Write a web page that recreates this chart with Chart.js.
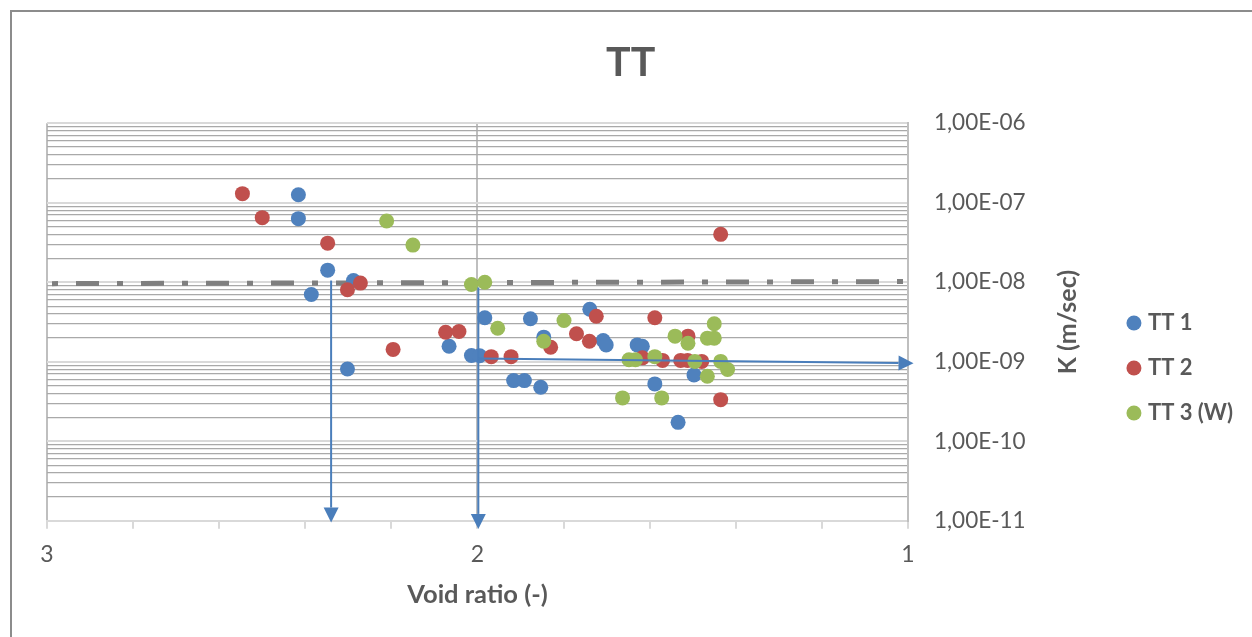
<!DOCTYPE html>
<html>
<head>
<meta charset="utf-8">
<script src="https://cdn.jsdelivr.net/npm/chart.js@4.4.1/dist/chart.umd.min.js"></script>
<style>
  html, body { margin: 0; padding: 0; background: #ffffff; overflow: hidden; }
  #wrap { width: 1252px; height: 637px; position: relative; }
</style>
</head>
<body>
<div id="wrap"><canvas id="c" width="1252" height="637"></canvas></div>
<script>
// Series: void ratio (-) against permeability K (m/sec)
const seriesNames = ['TT 1', 'TT 2', 'TT 3 (W)'];
const seriesColors = ['#4f81bd', '#c0504d', '#9bbb59'];

const tt1Void = [2.416, 2.416, 2.348, 2.288, 2.386, 2.302, 2.066, 2.014, 1.995, 1.983, 1.916, 1.891,
                 1.853, 1.877, 1.846, 1.739, 1.708, 1.701, 1.629, 1.617, 1.588, 1.497, 1.534];
const tt1K = [1.26e-7, 6.3e-8, 1.42e-8, 1.05e-8, 7.0e-9, 8.1e-10, 1.57e-9, 1.20e-9, 1.19e-9, 3.57e-9, 5.8e-10, 5.8e-10,
              4.78e-10, 3.47e-9, 2.04e-9, 4.58e-9, 1.85e-9, 1.63e-9, 1.63e-9, 1.57e-9, 5.27e-10, 6.84e-10, 1.73e-10];

const tt2Void = [2.546, 2.500, 2.348, 2.272, 2.302, 2.196, 2.074, 2.043, 1.968, 1.922, 1.830, 1.770,
                 1.740, 1.724, 1.617, 1.588, 1.570, 1.511, 1.528, 1.512, 1.479, 1.435, 1.435];
const tt2K = [1.30e-7, 6.49e-8, 3.10e-8, 9.75e-9, 8.05e-9, 1.43e-9, 2.35e-9, 2.40e-9, 1.16e-9, 1.16e-9, 1.52e-9, 2.25e-9,
              1.81e-9, 3.74e-9, 1.12e-9, 3.57e-9, 1.04e-9, 2.10e-9, 1.04e-9, 1.04e-9, 1.01e-9, 3.34e-10, 4.0e-8];

const tt3Void = [2.211, 2.150, 2.014, 1.983, 1.953, 1.846, 1.799, 1.648, 1.633, 1.663, 1.588,
                 1.572, 1.541, 1.511, 1.495, 1.466, 1.450, 1.450, 1.466, 1.435, 1.419];
const tt3K = [5.89e-8, 2.93e-8, 9.38e-9, 1.00e-8, 2.64e-9, 1.81e-9, 3.30e-9, 1.06e-9, 1.06e-9, 3.51e-10, 1.16e-9,
              3.51e-10, 2.10e-9, 1.71e-9, 1.01e-9, 1.98e-9, 1.98e-9, 3.00e-9, 6.56e-10, 1.01e-9, 7.98e-10];

// Reference limit line around 1E-08
const limitVoid = [3, 1];
const limitK = [9.6e-9, 1.02e-8];

// Reading arrows (start -> tip)
const arrowFromVoid = [2.34, 1.998, 1.998];
const arrowFromK = [1.05e-8, 8.6e-9, 1.097e-9];
const arrowToVoid = [2.34, 1.998, 0.987];
const arrowToK = [9.5e-12, 7.9e-12, 9.57e-10];

// Axis ticks
const xTickValues = [3, 2, 1];
const xTickLabels = ['3', '2', '1'];
const yDecades = [1e-11, 1e-10, 1e-9, 1e-8, 1e-7, 1e-6];
const yTickLabels = ['1,00E-11', '1,00E-10', '1,00E-09', '1,00E-08', '1,00E-07', '1,00E-06'];
const minorMultipliers = [1, 2, 3, 4, 5, 6, 7, 8, 9];

const FONT = 'Lato, "Open Sans", sans-serif';
const TEXT = '#595959';

const pts = (xs, ys) => xs.map((x, i) => ({ x: x, y: ys[i] }));
const isMajorLog = v => Math.abs(Math.log10(v) - Math.round(Math.log10(v))) < 1e-9;

const framePlugin = {
  id: 'frame',
  beforeDraw(chart) {
    const c = chart.ctx;
    c.save();
    c.fillStyle = '#ffffff';
    c.fillRect(0, 0, chart.width, chart.height);
    c.strokeStyle = '#8c8c8c';
    c.lineWidth = 2;
    c.beginPath();
    c.moveTo(11, chart.height + 2);
    c.lineTo(11, 11);
    c.lineTo(chart.width + 2, 11);
    c.stroke();
    c.restore();
  }
};

const arrowPlugin = {
  id: 'arrows',
  afterDatasetsDraw(chart) {
    const c = chart.ctx, xs = chart.scales.x, ys = chart.scales.y;
    c.save();
    c.strokeStyle = '#4a7ebb';
    c.fillStyle = '#4a7ebb';
    c.lineWidth = 2;
    arrowFromVoid.forEach((_, i) => {
      const x0 = xs.getPixelForValue(arrowFromVoid[i]), y0 = ys.getPixelForValue(arrowFromK[i]);
      const x1 = xs.getPixelForValue(arrowToVoid[i]), y1 = ys.getPixelForValue(arrowToK[i]);
      const len = Math.hypot(x1 - x0, y1 - y0), ux = (x1 - x0) / len, uy = (y1 - y0) / len;
      const head = 15, half = 7.5;
      const bx = x1 - ux * head, by = y1 - uy * head;
      c.beginPath();
      c.moveTo(x0, y0);
      c.lineTo(bx, by);
      c.stroke();
      c.beginPath();
      c.moveTo(x1, y1);
      c.lineTo(bx - uy * half, by + ux * half);
      c.lineTo(bx + uy * half, by - ux * half);
      c.closePath();
      c.fill();
    });
    c.restore();
  }
};

const yTitlePlugin = {
  id: 'yTitle',
  afterDraw(chart) {
    const c = chart.ctx, a = chart.chartArea;
    c.save();
    c.translate(a.right + 160, (a.top + a.bottom) / 2);
    c.rotate(-Math.PI / 2);
    c.font = 'bold 25px ' + FONT;
    c.fillStyle = TEXT;
    c.textAlign = 'center';
    c.textBaseline = 'middle';
    c.fillText('K (m/sec)', 0, 0);
    c.restore();
  }
};

const scatterSet = (i, xs, ys, order) => ({
  label: seriesNames[i],
  data: pts(xs, ys),
  backgroundColor: seriesColors[i],
  borderColor: seriesColors[i],
  borderWidth: 0,
  pointRadius: 7.5,
  pointHoverRadius: 7.5,
  order: order
});

new Chart(document.getElementById('c'), {
  type: 'scatter',
  data: {
    datasets: [
      scatterSet(0, tt1Void, tt1K, 3),
      scatterSet(1, tt2Void, tt2K, 2),
      scatterSet(2, tt3Void, tt3K, 1),
      {
        label: 'limit',
        data: pts(limitVoid, limitK),
        showLine: true,
        borderColor: '#7f7f7f',
        borderWidth: 5,
        borderDash: [23, 18, 6, 18],
        borderDashOffset: 36,
        borderCapStyle: 'butt',
        pointRadius: 0,
        pointHoverRadius: 0,
        order: 10
      }
    ]
  },
  options: {
    responsive: false,
    devicePixelRatio: 1,
    animation: false,
    events: [],
    layout: { padding: { left: 47, top: 12, right: 9, bottom: 23 } },
    plugins: {
      title: {
        display: true,
        // trailing spaces nudge the centred title towards the frame's centre
        text: 'TT\u00a0\u00a0\u00a0',
        color: TEXT,
        font: { family: FONT, size: 41, weight: 'bold' },
        padding: { top: 26, bottom: 36 }
      },
      legend: {
        display: true,
        position: 'right',
        align: 'center',
        title: {
          display: true,
          text: '',
          font: { family: FONT, size: 10, lineHeight: 1 },
          padding: { top: 100, bottom: 0 }
        },
        labels: {
          usePointStyle: true,
          pointStyle: 'circle',
          boxWidth: 6,
          boxHeight: 10.6,
          padding: 23,
          color: TEXT,
          font: { family: FONT, size: 22, weight: 'bold' },
          filter: item => item.datasetIndex < 3,
          sort: (a, b) => a.datasetIndex - b.datasetIndex
        }
      },
      tooltip: { enabled: false }
    },
    scales: {
      x: {
        type: 'linear',
        reverse: true,
        min: 1,
        max: 3,
        border: { display: true, color: '#d9d9d9', width: 2 },
        grid: {
          drawOnChartArea: true,
          drawTicks: true,
          tickLength: 8,
          tickWidth: 2,
          tickColor: '#d9d9d9',
          color: ctx => (ctx.tick && xTickValues.some(v => Math.abs(v - ctx.tick.value) < 1e-6)) ? '#bfbfbf' : 'rgba(0,0,0,0)',
          lineWidth: 2
        },
        ticks: {
          stepSize: 0.2,
          autoSkip: false,
          maxRotation: 0,
          padding: 11.5,
          color: TEXT,
          font: { family: FONT, size: 23 },
          callback: v => {
            const i = xTickValues.findIndex(t => Math.abs(t - v) < 1e-6);
            return i >= 0 ? xTickLabels[i] : '';
          }
        },
        title: {
          display: true,
          text: 'Void ratio (-)',
          color: TEXT,
          font: { family: FONT, size: 25.5, weight: 'bold' },
          padding: { top: 0, bottom: 4 }
        }
      },
      y: {
        type: 'logarithmic',
        position: 'right',
        min: 1e-11,
        max: 1e-6,
        afterBuildTicks: axis => {
          const t = [];
          yDecades.forEach((d, di) => {
            minorMultipliers.forEach(m => {
              if (di === yDecades.length - 1 && m > 1) return;
              t.push({ value: d * m, major: m === 1 });
            });
          });
          axis.ticks = t;
        },
        afterFit: axis => { axis.width = 200; },
        border: { display: true, color: '#bfbfbf', width: 2 },
        grid: {
          drawTicks: false,
          color: ctx => (ctx.tick && isMajorLog(ctx.tick.value)) ? '#d9d9d9' : '#a9a9a9',
          lineWidth: ctx => (ctx.tick && isMajorLog(ctx.tick.value)) ? 2 : 1.3
        },
        ticks: {
          autoSkip: false,
          padding: 26,
          color: TEXT,
          font: { family: FONT, size: 22.5 },
          callback: v => {
            const i = yDecades.findIndex(d => Math.abs(Math.log10(d) - Math.log10(v)) < 1e-9);
            return i >= 0 ? yTickLabels[i] : '';
          }
        },
        title: { display: false }
      }
    }
  },
  plugins: [framePlugin, arrowPlugin, yTitlePlugin]
});
</script>
</body>
</html>
